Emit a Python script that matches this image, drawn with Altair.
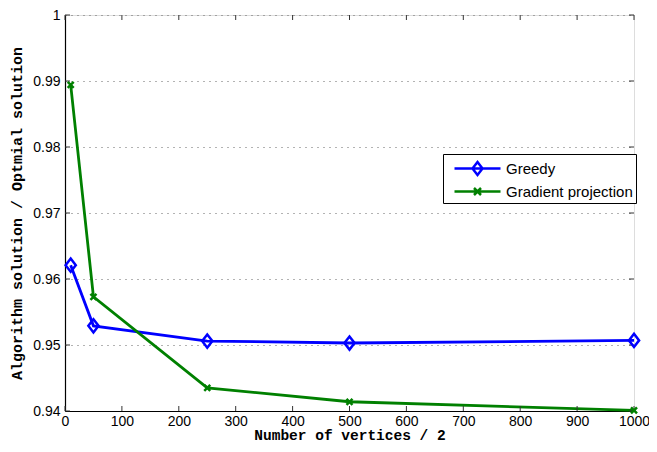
import altair as alt
import pandas as pd

x_vals = [10, 50, 250, 500, 1000]
greedy = [0.9621, 0.9529, 0.9506, 0.9503, 0.9507]
gradient = [0.9894, 0.9573, 0.9435, 0.9414, 0.9401]
series = ["Greedy", "Gradient projection"]
colors = ["#0000ff", "#008000"]
x_ticks = [0, 100, 200, 300, 400, 500, 600, 700, 800, 900, 1000]
y_ticks = [0.94, 0.95, 0.96, 0.97, 0.98, 0.99, 1.0]

df = pd.DataFrame({
    "n": x_vals + x_vals,
    "ratio": greedy + gradient,
    "series": [series[0]] * len(x_vals) + [series[1]] * len(x_vals),
})
xt = pd.DataFrame({"n": x_ticks})
yt = pd.DataFrame({"ratio": y_ticks})

marker_paths = [
    "M0,-1.1L0.85,0L0,1.1L-0.85,0Z",
    "M-1,-1L1,1M-1,1L1,-1",
]
legend_paths = [
    "M-2.3,0L2.3,0M0,-0.65L0.5,0L0,0.65L-0.5,0Z",
    "M-2.3,0L2.3,0M-0.35,-0.35L0.35,0.35M-0.35,0.35L0.35,-0.35",
]

tick_font = "Liberation Sans"
title_font = "Liberation Mono"

PLOT_W = 569
PLOT_H = 396

x_enc = alt.X(
    "n:Q",
    scale=alt.Scale(domain=[0, 1000], nice=False),
    axis=alt.Axis(
        values=x_ticks, format="d", title="Number of vertices / 2", grid=False,
        labelFont=tick_font, labelFontSize=14, labelColor="black",
        labelFlush=False, labelPadding=3, tickSize=0,
        titleFont=title_font, titleFontSize=14.5, titleFontWeight="bold",
        titleColor="black", titlePadding=0,
        domainColor="black", domainWidth=1.2,
    ),
)
y_enc = alt.Y(
    "ratio:Q",
    scale=alt.Scale(domain=[0.94, 1.0], nice=False, zero=False),
    axis=alt.Axis(
        values=y_ticks, format="~g", title="Algorithm solution / Optmial solution",
        grid=True, gridDash=[1, 5], gridColor="#666666", gridWidth=1,
        labelFont=tick_font, labelFontSize=14, labelColor="black",
        labelFlush=False, labelPadding=5, tickSize=0,
        titleFont=title_font, titleFontSize=15, titleFontWeight="bold",
        titleColor="black", titlePadding=8,
        domainColor="black", domainWidth=1.2,
    ),
)

color_nolegend = alt.Color("series:N", scale=alt.Scale(domain=series, range=colors), legend=None)

lines = alt.Chart(df).mark_line(strokeWidth=2.8).encode(
    x=x_enc, y=y_enc, color=color_nolegend, detail="series:N"
)

points = alt.Chart(df).mark_point(filled=False, strokeWidth=2.5, opacity=1).encode(
    x="n:Q", y="ratio:Q",
    stroke=alt.Stroke("series:N", scale=alt.Scale(domain=series, range=colors), legend=None),
    shape=alt.Shape("series:N", scale=alt.Scale(domain=series, range=marker_paths), legend=None),
    size=alt.Size("series:N", scale=alt.Scale(domain=series, range=[144, 36]), legend=None),
)

legend_layer = alt.Chart(df).transform_filter("datum.n < 0").mark_point(
    filled=False, strokeWidth=2.5, opacity=1, size=400
).encode(
    x="n:Q", y="ratio:Q",
    color=alt.Color(
        "series:N", scale=alt.Scale(domain=series, range=colors),
        legend=alt.Legend(
            title=None, orient="none", legendX=378, legendY=139,
            strokeColor="black", fillColor="white", padding=3,
            labelFont=tick_font, labelFontSize=15, labelColor="black",
            labelLimit=300,
            symbolSize=400, symbolStrokeWidth=2.5, symbolOffset=20,
            labelOffset=17, rowPadding=0, cornerRadius=0,
        ),
    ),
    shape=alt.Shape("series:N", scale=alt.Scale(domain=series, range=legend_paths)),
)

tick_color = "#333333"
xticks_bottom = alt.Chart(xt).mark_rule(color=tick_color, strokeWidth=1).encode(
    x="n:Q", y=alt.value(PLOT_H - 5), y2=alt.value(PLOT_H)
)
xticks_top = alt.Chart(xt).mark_rule(color=tick_color, strokeWidth=1).encode(
    x="n:Q", y=alt.value(0), y2=alt.value(5)
)
yticks_left = alt.Chart(yt).mark_rule(color=tick_color, strokeWidth=1).encode(
    y="ratio:Q", x=alt.value(0), x2=alt.value(5)
)
yticks_right = alt.Chart(yt).mark_rule(color=tick_color, strokeWidth=1).encode(
    y="ratio:Q", x=alt.value(PLOT_W - 5), x2=alt.value(PLOT_W)
)

chart = alt.layer(
    lines, xticks_bottom, xticks_top, yticks_left, yticks_right, points, legend_layer
).resolve_scale(
    color="independent", shape="independent", stroke="independent", size="independent"
).properties(
    width=PLOT_W, height=PLOT_H,
    autosize=alt.AutoSizeParams(type="none"),
    padding={"left": 57, "top": 7, "right": 15, "bottom": 33},
).configure_view(
    stroke="black", strokeWidth=1.2
).configure(background="white")

chart.save("out.html", embed_options={"renderer": "svg", "actions": False})
